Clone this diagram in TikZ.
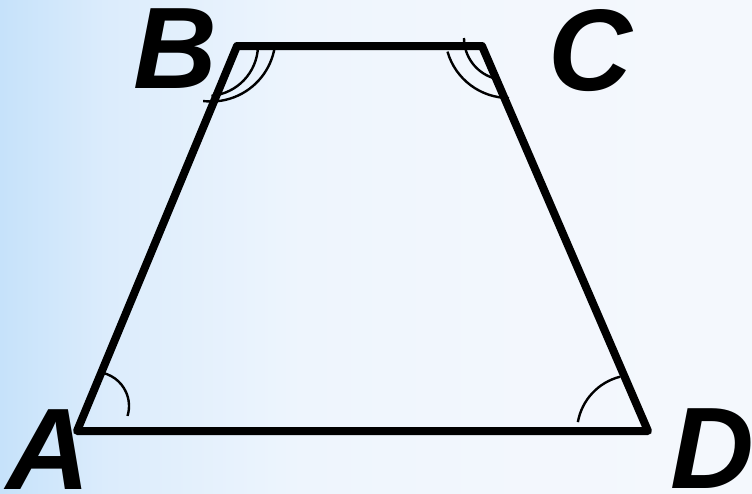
\documentclass[tikz,border=0pt]{standalone}
\usepackage{fontspec}
\setmainfont{Liberation Sans}
\pgfdeclarehorizontalshading{bgshade}{100bp}{%
  rgb(0bp)=(0.776,0.886,0.980);
  rgb(25bp)=(0.776,0.886,0.980);
  rgb(32bp)=(0.860,0.925,0.988);
  rgb(45bp)=(0.933,0.961,0.992);
  rgb(60bp)=(0.953,0.969,0.992);
  rgb(75bp)=(0.957,0.973,0.992);
  rgb(100bp)=(0.957,0.973,0.992)}
\begin{document}
\begin{tikzpicture}[x=1pt,y=-1pt,
  side/.style={line width=8pt,line join=round,line cap=round},
  anglearc/.style={line width=2.4pt},
  vlabel/.style={inner sep=0pt,anchor=base,font=\fontsize{116}{116}\selectfont\bfseries\itshape}]
\useasboundingbox (0,0) rectangle (752,493);
\path[shading=bgshade] (0,0) rectangle (752,493);
\coordinate (A) at (77,431);
\coordinate (B) at (237,46);
\coordinate (C) at (482,46);
\coordinate (D) at (648,431);
% angle arcs
\draw[anglearc] ([shift={(-84:34)}]95,406) arc[start angle=-84,end angle=17,radius=34];
\draw[anglearc] ([shift={(-104:57)}]634,432) arc[start angle=-104,end angle=-170,radius=57];
\draw[anglearc] ([shift={(5:64.5)}]211,37) arc[start angle=5,end angle=97,radius=64.5];
\draw[anglearc] ([shift={(2:51)}]207,45) arc[start angle=2,end angle=85,radius=51];
\draw[anglearc] ([shift={(164:64)}]509,34) arc[start angle=164,end angle=90,radius=64];
\draw[anglearc] ([shift={(180:42)}]506,38) arc[start angle=180,end angle=108,radius=42];
% trapezoid
\draw[side] (A) -- (B) -- (C) -- (D) -- cycle;
% labels
\node[vlabel] (la) at (48,489) {A};
\node[vlabel] (lb) at (175,88) {B};
\node[vlabel] (lc) at (590,90) {C};
\node[vlabel] (ld) at (712,488) {D};
\end{tikzpicture}
\end{document}
